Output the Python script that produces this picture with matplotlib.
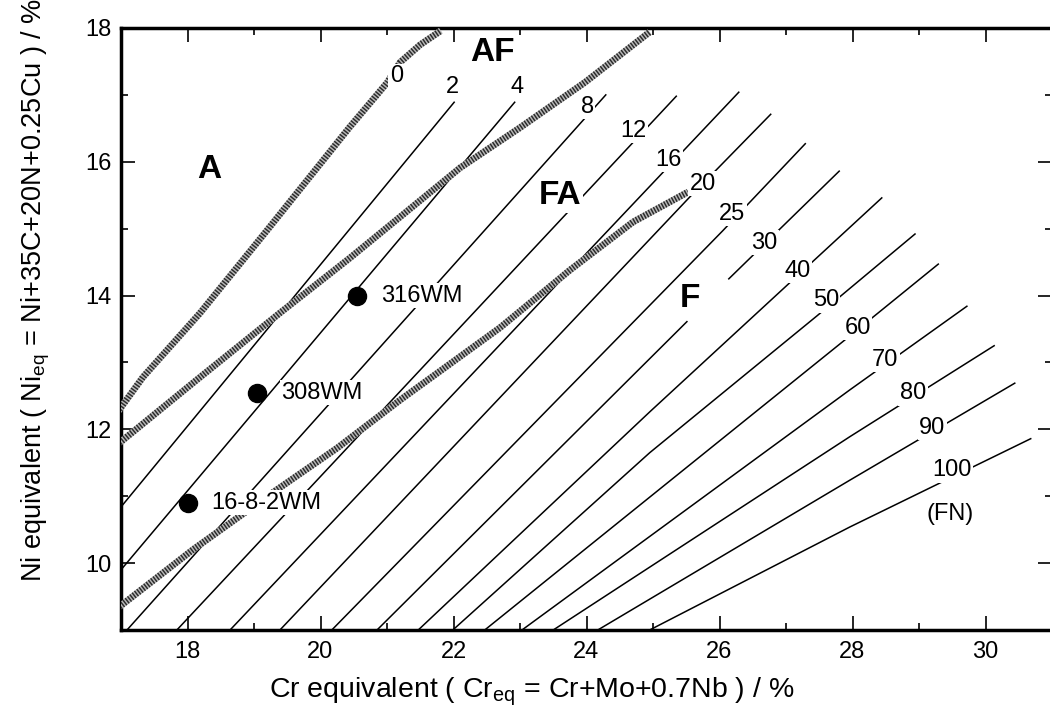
import numpy as np
import matplotlib
matplotlib.use("Agg")
import matplotlib.pyplot as plt
from matplotlib.ticker import MultipleLocator

plt.rcParams['font.family'] = ['Liberation Sans', 'DejaVu Sans']
plt.rcParams['mathtext.fontset'] = 'custom'
plt.rcParams['mathtext.rm'] = 'Liberation Sans'
plt.rcParams['mathtext.it'] = 'Liberation Sans:italic'

nan = np.nan

# phase boundaries (Cr_eq, Ni_eq), drawn as thick hatched bands
a_af_cr = [16.95, 17.33, 18.19, 19.20, 20.44, 21.00, 21.20, 21.50, 21.81]
a_af_ni = [12.26, 12.78, 13.74, 14.98, 16.52, 17.18, 17.49, 17.75, 17.96]
af_fa_cr = [16.98, 18.14, 19.39, 20.44, 22.10, 23.00, 23.98, 24.95]
af_fa_ni = [11.80, 12.74, 13.74, 14.56, 15.91, 16.51, 17.19, 17.94]
fa_f_cr = [16.98, 18.08, 19.29, 20.25, 21.20, 22.70, 23.75, 24.70, 25.53]
fa_f_ni = [9.35, 10.20, 11.06, 11.72, 12.44, 13.52, 14.38, 15.10, 15.55]

# iso ferrite number lines
iso_fn = [2, 4, 8, 12, 16, 20, 25, 30, 40, 50, 60, 70, 80, 90, 100]
iso_cr = [
    [17.00, 22.01],
    [17.00, 22.92],
    [17.09, 24.29],
    [17.84, 25.35],
    [18.64, 26.29],
    [19.39, 25.54, 26.77],
    [20.17, 26.05, 27.29],
    [20.85, 25.51, nan, 26.14, 27.80],
    [21.47, 24.95, 28.44],
    [21.99, 24.95, 27.47, 28.94],
    [22.47, 27.89, 29.29],
    [23.03, 27.96, 29.72],
    [23.50, 27.96, 30.13],
    [24.17, 27.96, 30.44],
    [24.95, 27.96, 30.68],
]
iso_ni = [
    [10.84, 16.89],
    [9.90, 16.89],
    [9.00, 17.00],
    [9.00, 16.98],
    [9.00, 17.04],
    [9.00, 15.46, 16.71],
    [9.00, 14.97, 16.27],
    [9.00, 13.61, nan, 14.25, 15.86],
    [9.00, 12.26, 15.46],
    [9.00, 11.65, 13.70, 14.92],
    [9.00, 13.34, 14.47],
    [9.00, 12.59, 13.84],
    [9.00, 11.89, 13.25],
    [9.00, 11.24, 12.69],
    [9.00, 10.54, 11.86],
]

# weld metals
wm_names = ['316WM', '308WM', '16-8-2WM']
wm_cr = [20.55, 19.05, 18.00]
wm_ni = [14.00, 12.55, 10.90]

# label placement for the FN numbers (first one belongs to the A/AF line)
fn_text = ['0'] + [str(v) for v in iso_fn]
fn_lx = [21.14, 21.99, 22.95, 24.01, 24.71, 25.23, 25.75, 26.19, 26.67,
         27.17, 27.60, 28.08, 28.49, 28.91, 29.20, 29.50]
fn_ly = [17.28, 17.12, 17.12, 16.82, 16.46, 16.03, 15.67, 15.22, 14.79,
         14.37, 13.93, 13.52, 13.04, 12.54, 12.02, 11.39]

regions = ['A', 'AF', 'FA', 'F']
reg_x = [18.32, 22.58, 23.60, 25.56]
reg_y = [15.88, 17.64, 15.49, 13.96]

fig = plt.figure(figsize=(10.5, 7.2), dpi=100)
ax = fig.add_axes([121 / 1050, 1 - 630 / 720, 931 / 1050, 602 / 720])


def hatched(x, y):
    ax.plot(x, y, color='#b8b8b8', lw=4.8, solid_capstyle='butt', zorder=3)
    ax.plot(x, y, color='#2a2a2a', lw=4.8, dashes=(0.22, 0.22),
            dash_capstyle='butt', zorder=3)


for cr, ni in zip(iso_cr, iso_ni):
    ax.plot(cr, ni, color='black', lw=1.1, zorder=2)

hatched(a_af_cr, a_af_ni)
hatched(af_fa_cr, af_fa_ni)
hatched(fa_f_cr, fa_f_ni)

box = dict(fc='white', ec='none', pad=1.0)
for s, x, y in zip(fn_text, fn_lx, fn_ly):
    ax.text(x, y, s, fontsize=17, ha='center', va='center', bbox=box, zorder=5)
ax.text(29.47, 10.74, '(FN)', fontsize=17, ha='center', va='center', zorder=5)

for s, x, y in zip(regions, reg_x, reg_y):
    ax.text(x, y, s, fontsize=24, fontweight='bold', ha='center', va='center',
            bbox=box, zorder=5)

ax.plot(wm_cr, wm_ni, 'o', color='black', ms=13, ls='none', zorder=6)
for s, x, y in zip(wm_names, wm_cr, wm_ni):
    ax.annotate(s, (x, y), xytext=(17, 0), textcoords='offset points',
                fontsize=17, ha='left', va='center', bbox=box, zorder=5)

ax.set_xlim(17, 31)
ax.set_ylim(9, 18)
ax.xaxis.set_major_locator(MultipleLocator(2))
ax.xaxis.set_minor_locator(MultipleLocator(1))
ax.yaxis.set_major_locator(MultipleLocator(2))
ax.yaxis.set_minor_locator(MultipleLocator(1))
ax.tick_params(which='both', direction='in', top=True, right=True, width=1.2)
ax.tick_params(which='major', length=10, labelsize=17, pad=8)
ax.tick_params(which='minor', length=5)
ax.tick_params(axis='y', which='major', pad=7)
for sp in ax.spines.values():
    sp.set_linewidth(2.5)

fig.text(532 / 1050, 1 - 692 / 720,
         r'Cr equivalent ( Cr$_{\mathrm{eq}}$ = Cr+Mo+0.7Nb ) / %',
         fontsize=20.5, ha='center', va='center')
fig.text(36 / 1050, 1 - 290 / 720,
         r'Ni equivalent ( Ni$_{\mathrm{eq}}$ = Ni+35C+20N+0.25Cu ) / %',
         fontsize=19.5, ha='center', va='center', rotation=90)

fig.savefig('out.png', dpi=100)
